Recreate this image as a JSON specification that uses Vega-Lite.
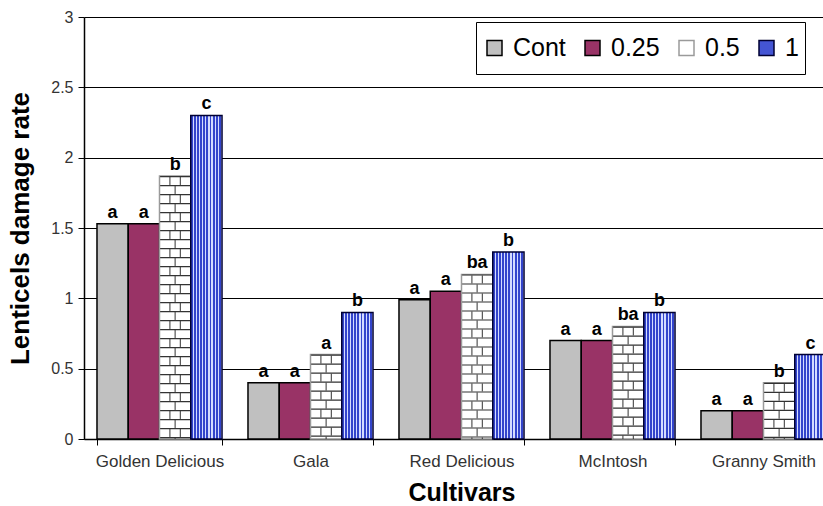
{
  "$schema": "https://vega.github.io/schema/vega-lite/v6.json",
  "autosize": {"type": "none"},
  "width": 739,
  "height": 422,
  "padding": {"left": 84, "top": 17, "right": 0, "bottom": 67},
  "background": "white",
  "config": {
    "view": {"stroke": null},
    "font": "Liberation Sans"
  },
  "data": {
    "values": [
      {"cultivar": "Golden Delicious", "treatment": "Cont", "rate": 1.53, "sig": "a"},
      {"cultivar": "Golden Delicious", "treatment": "0.25", "rate": 1.53, "sig": "a"},
      {"cultivar": "Golden Delicious", "treatment": "0.5", "rate": 1.87, "sig": "b"},
      {"cultivar": "Golden Delicious", "treatment": "1", "rate": 2.3, "sig": "c"},
      {"cultivar": "Gala", "treatment": "Cont", "rate": 0.4, "sig": "a"},
      {"cultivar": "Gala", "treatment": "0.25", "rate": 0.4, "sig": "a"},
      {"cultivar": "Gala", "treatment": "0.5", "rate": 0.6, "sig": "a"},
      {"cultivar": "Gala", "treatment": "1", "rate": 0.9, "sig": "b"},
      {"cultivar": "Red Delicious", "treatment": "Cont", "rate": 0.99, "sig": "a"},
      {"cultivar": "Red Delicious", "treatment": "0.25", "rate": 1.05, "sig": "a"},
      {"cultivar": "Red Delicious", "treatment": "0.5", "rate": 1.17, "sig": "ba"},
      {"cultivar": "Red Delicious", "treatment": "1", "rate": 1.33, "sig": "b"},
      {"cultivar": "McIntosh", "treatment": "Cont", "rate": 0.7, "sig": "a"},
      {"cultivar": "McIntosh", "treatment": "0.25", "rate": 0.7, "sig": "a"},
      {"cultivar": "McIntosh", "treatment": "0.5", "rate": 0.8, "sig": "ba"},
      {"cultivar": "McIntosh", "treatment": "1", "rate": 0.9, "sig": "b"},
      {"cultivar": "Granny Smith", "treatment": "Cont", "rate": 0.2, "sig": "a"},
      {"cultivar": "Granny Smith", "treatment": "0.25", "rate": 0.2, "sig": "a"},
      {"cultivar": "Granny Smith", "treatment": "0.5", "rate": 0.4, "sig": "b"},
      {"cultivar": "Granny Smith", "treatment": "1", "rate": 0.6, "sig": "c"}
    ]
  },
  "resolve": {"scale": {"xOffset": "independent"}},
  "encoding": {
    "x": {
      "field": "cultivar",
      "type": "nominal",
      "sort": ["Golden Delicious", "Gala", "Red Delicious", "McIntosh", "Granny Smith"],
      "scale": {"range": [0, 755], "paddingInner": 0.172, "paddingOuter": 0.086},
      "axis": {
        "title": "Cultivars",
        "titleFontSize": 25,
        "titleFontWeight": "bold",
        "titleColor": "black",
        "titlePadding": 11,
        "labelAngle": 0,
        "labelFontSize": 17,
        "labelColor": "#333",
        "labelPadding": 8,
        "tickBand": "extent",
        "tickSize": 6,
        "tickColor": "black",
        "domainColor": "black",
        "domainWidth": 1.5
      }
    },
    "xOffset": {
      "field": "treatment",
      "type": "nominal",
      "scale": {"type": "band", "domain": ["Cont", "0.25", "0.5", "1"], "paddingInner": 0, "paddingOuter": 0}
    },
    "y": {
      "field": "rate",
      "type": "quantitative",
      "scale": {"domain": [0, 3], "nice": false},
      "axis": {
        "title": "Lenticels damage rate",
        "titleFontSize": 26,
        "titleFontWeight": "bold",
        "titleColor": "black",
        "titlePadding": 17,
        "values": [0, 0.5, 1, 1.5, 2, 2.5, 3],
        "format": "~g",
        "labelFontSize": 16,
        "labelColor": "#333",
        "labelPadding": 5,
        "tickSize": 6,
        "tickColor": "black",
        "domainColor": "black",
        "domainWidth": 1.5,
        "grid": true,
        "gridColor": "black",
        "gridWidth": 1
      }
    }
  },
  "layer": [
    {
      "mark": {"type": "bar", "strokeWidth": 1.5},
      "encoding": {
        "fill": {
          "condition": {
            "test": "datum.treatment == '1'",
            "value": {
              "gradient": "linear", "x1": 0, "y1": 0, "x2": 1, "y2": 0,
              "stops": [
                {"offset": 0.0, "color": "#3344cc"}, {"offset": 0.062, "color": "#3344cc"}, {"offset": 0.062, "color": "#d4dbff"}, {"offset": 0.1, "color": "#d4dbff"},
                {"offset": 0.1, "color": "#3344cc"}, {"offset": 0.162, "color": "#3344cc"}, {"offset": 0.162, "color": "#d4dbff"}, {"offset": 0.2, "color": "#d4dbff"},
                {"offset": 0.2, "color": "#3344cc"}, {"offset": 0.262, "color": "#3344cc"}, {"offset": 0.262, "color": "#d4dbff"}, {"offset": 0.3, "color": "#d4dbff"},
                {"offset": 0.3, "color": "#3344cc"}, {"offset": 0.362, "color": "#3344cc"}, {"offset": 0.362, "color": "#d4dbff"}, {"offset": 0.4, "color": "#d4dbff"},
                {"offset": 0.4, "color": "#3344cc"}, {"offset": 0.462, "color": "#3344cc"}, {"offset": 0.462, "color": "#d4dbff"}, {"offset": 0.5, "color": "#d4dbff"},
                {"offset": 0.5, "color": "#3344cc"}, {"offset": 0.562, "color": "#3344cc"}, {"offset": 0.562, "color": "#d4dbff"}, {"offset": 0.6, "color": "#d4dbff"},
                {"offset": 0.6, "color": "#3344cc"}, {"offset": 0.662, "color": "#3344cc"}, {"offset": 0.662, "color": "#d4dbff"}, {"offset": 0.7, "color": "#d4dbff"},
                {"offset": 0.7, "color": "#3344cc"}, {"offset": 0.762, "color": "#3344cc"}, {"offset": 0.762, "color": "#d4dbff"}, {"offset": 0.8, "color": "#d4dbff"},
                {"offset": 0.8, "color": "#3344cc"}, {"offset": 0.862, "color": "#3344cc"}, {"offset": 0.862, "color": "#d4dbff"}, {"offset": 0.9, "color": "#d4dbff"},
                {"offset": 0.9, "color": "#3344cc"}, {"offset": 0.962, "color": "#3344cc"}, {"offset": 0.962, "color": "#d4dbff"}, {"offset": 1.0, "color": "#d4dbff"}
              ]
            }
          },
          "field": "treatment",
          "type": "nominal",
          "scale": {
            "domain": ["Cont", "0.25", "0.5", "1"],
            "range": ["#c0c0c0", "#993366", "#ffffff", "#4455d4"]
          },
          "legend": {
            "title": null,
            "orient": "none",
            "legendX": 392,
            "legendY": 5,
            "direction": "horizontal",
            "columns": 4,
            "fillColor": "white",
            "strokeColor": "black",
            "padding": 6,
            "clipHeight": 40,
            "symbolType": "square",
            "symbolSize": 225,
            "symbolStrokeWidth": 1.5,
            "labelFontSize": 25,
            "labelColor": "black",
            "labelOffset": 6,
            "columnPadding": 14,
            "encode": {
              "symbols": {
                "update": {
                  "fill": [
                    {
                      "test": "datum.value === '1'",
                      "value": {
                        "gradient": "linear", "x1": 0, "y1": 0, "x2": 1, "y2": 0,
                        "stops": [
                          {"offset": 0.0, "color": "#3344cc"}, {"offset": 0.12, "color": "#3344cc"}, {"offset": 0.12, "color": "#d4dbff"}, {"offset": 0.2, "color": "#d4dbff"},
                          {"offset": 0.2, "color": "#3344cc"}, {"offset": 0.32, "color": "#3344cc"}, {"offset": 0.32, "color": "#d4dbff"}, {"offset": 0.4, "color": "#d4dbff"},
                          {"offset": 0.4, "color": "#3344cc"}, {"offset": 0.52, "color": "#3344cc"}, {"offset": 0.52, "color": "#d4dbff"}, {"offset": 0.6, "color": "#d4dbff"},
                          {"offset": 0.6, "color": "#3344cc"}, {"offset": 0.72, "color": "#3344cc"}, {"offset": 0.72, "color": "#d4dbff"}, {"offset": 0.8, "color": "#d4dbff"},
                          {"offset": 0.8, "color": "#3344cc"}, {"offset": 1.0, "color": "#3344cc"}
                        ]
                      }
                    },
                    {
                      "test": "datum.value === '0.5'",
                      "value": {
                        "gradient": "linear", "x1": 0, "y1": 0, "x2": 0, "y2": 1,
                        "stops": [
                          {"offset": 0.0, "color": "#ffffff"}, {"offset": 0.28, "color": "#ffffff"}, {"offset": 0.28, "color": "#555555"}, {"offset": 0.36, "color": "#555555"},
                          {"offset": 0.36, "color": "#ffffff"}, {"offset": 0.64, "color": "#ffffff"}, {"offset": 0.64, "color": "#555555"}, {"offset": 0.72, "color": "#555555"},
                          {"offset": 0.72, "color": "#ffffff"}, {"offset": 1.0, "color": "#ffffff"}
                        ]
                      }
                    },
                    {"scale": "fill", "field": "value"}
                  ]
                }
              }
            }
          }
        },
        "stroke": {
          "field": "treatment",
          "type": "nominal",
          "scale": {"domain": ["Cont", "0.25", "0.5", "1"], "range": ["#000000", "#000000", "#9a9a9a", "#000033"]}
        }
      }
    },
    {
      "transform": [{"filter": "datum.treatment == '0.5'"}],
      "mark": {"type": "rule", "color": "#333", "strokeWidth": 30, "strokeDash": [1.2, 7.8]},
      "encoding": {"y2": {"datum": 0}}
    },
    {
      "transform": [{"filter": "datum.treatment == '0.5'"}],
      "mark": {"type": "rule", "color": "#333", "strokeWidth": 1, "strokeDash": [8, 10], "strokeDashOffset": -1},
      "encoding": {
        "xOffset": {
          "field": "treatment", "type": "nominal",
          "scale": {"type": "band", "domain": ["Cont", "0.25", "0.5", "1"], "range": [-5.2, 119.8], "paddingInner": 0, "paddingOuter": 0}
        },
        "y2": {"datum": 0}
      }
    },
    {
      "transform": [{"filter": "datum.treatment == '0.5'"}],
      "mark": {"type": "rule", "color": "#333", "strokeWidth": 1, "strokeDash": [8, 10], "strokeDashOffset": -1},
      "encoding": {
        "xOffset": {
          "field": "treatment", "type": "nominal",
          "scale": {"type": "band", "domain": ["Cont", "0.25", "0.5", "1"], "range": [5.2, 130.2], "paddingInner": 0, "paddingOuter": 0}
        },
        "y2": {"datum": 0}
      }
    },
    {
      "transform": [{"filter": "datum.treatment == '0.5'"}],
      "mark": {"type": "rule", "color": "#333", "strokeWidth": 1, "strokeDash": [8, 10], "strokeDashOffset": -10},
      "encoding": {
        "xOffset": {
          "field": "treatment", "type": "nominal",
          "scale": {"type": "band", "domain": ["Cont", "0.25", "0.5", "1"], "range": [0, 125], "paddingInner": 0, "paddingOuter": 0}
        },
        "y2": {"datum": 0}
      }
    },
    {
      "mark": {"type": "text", "baseline": "bottom", "dy": -2, "fontSize": 18, "fontWeight": "bold", "color": "black"},
      "encoding": {"text": {"field": "sig"}}
    }
  ]
}
